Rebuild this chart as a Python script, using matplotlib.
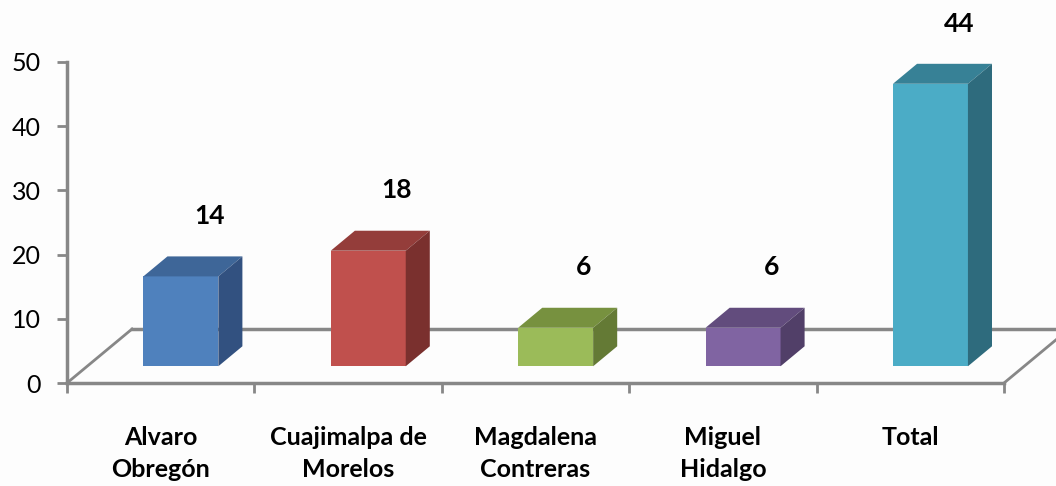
import matplotlib
matplotlib.use('Agg')
import matplotlib.pyplot as plt
from matplotlib.patches import Polygon

plt.rcParams['font.family'] = ['Lato', 'DejaVu Sans']

# datos
categorias = ['Alvaro\nObregón', 'Cuajimalpa de\nMorelos', 'Magdalena\nContreras', 'Miguel\nHidalgo', 'Total']
valores = [14, 18, 6, 6, 44]
color_frente = ['#4F81BD', '#C0504D', '#9BBB59', '#8064A2', '#4BACC6']
color_arriba = ['#3E6698', '#943D3A', '#77913F', '#624C7D', '#378196']
color_lado = ['#325180', '#7A302E', '#647A35', '#513F68', '#2E6B7D']

gris = '#878787'

fig = plt.figure(figsize=(10.56, 4.86), dpi=100)
fig.patch.set_facecolor('#FDFDFD')
ax = fig.add_axes([67 / 1056, 103 / 486, (1004 - 67) / 1056, 321 / 486])
ax.set_facecolor('none')

# profundidad del piso (efecto 3D)
prof_x, prof_y = 0.347, 8.41
ini = 0.31          # la barra empieza a esta fraccion de la profundidad
fondo = 0.37        # profundidad de la barra
ancho = 0.40

x_pos = list(range(len(categorias)))

# piso
ax.plot([-0.5, -0.5 + prof_x], [0, prof_y], color=gris, lw=2, clip_on=False, zorder=1)
ax.plot([-0.5 + prof_x, 4.5 + prof_x], [prof_y, prof_y], color=gris, lw=2.5, clip_on=False, zorder=1)
ax.plot([4.5, 4.5 + prof_x], [0, prof_y], color=gris, lw=2, clip_on=False, zorder=1)

dx0, dy0 = ini * prof_x, ini * prof_y
sdx, sdy = fondo * prof_x, fondo * prof_y

centros = [x + dx0 for x in x_pos]
ax.bar(centros, valores, width=ancho, bottom=dy0, color=color_frente, zorder=3, clip_on=False)

for c, v, ca, cl in zip(centros, valores, color_arriba, color_lado):
    x0, x1 = c - ancho / 2, c + ancho / 2
    b, t = dy0, dy0 + v
    ax.add_patch(Polygon([(x0, t), (x1, t), (x1 + sdx, t + sdy), (x0 + sdx, t + sdy)],
                         closed=True, facecolor=ca, edgecolor='none', zorder=3, clip_on=False))
    ax.add_patch(Polygon([(x1, b), (x1 + sdx, b + sdy), (x1 + sdx, t + sdy), (x1, t)],
                         closed=True, facecolor=cl, edgecolor='none', zorder=3, clip_on=False))
    ax.annotate(str(v), (c + sdx, t + sdy), xytext=(3, 29), textcoords='offset points',
                ha='center', va='center', fontsize=19, fontweight='bold', color='black')

ax.set_xlim(-0.5, 4.5)
ax.set_ylim(0, 50)

ax.set_xticks([x - 0.5 for x in range(len(categorias) + 1)])
ax.set_xticklabels([])
ax.set_xticks(x_pos, minor=True)
ax.set_xticklabels(categorias, minor=True, fontsize=18, fontweight='bold')
for lbl in ax.get_xticklabels(minor=True):
    lbl.set_linespacing(1.45)
ax.tick_params(axis='x', which='major', direction='out', length=7, width=2, color=gris)
ax.tick_params(axis='x', which='minor', length=0, pad=31)

ax.set_yticks(range(0, 51, 10))
ax.tick_params(axis='y', direction='out', length=7, width=2, color=gris, labelsize=18, pad=12)

for s in ['top', 'right']:
    ax.spines[s].set_visible(False)
for s in ['left', 'bottom']:
    ax.spines[s].set_color(gris)
    ax.spines[s].set_linewidth(2.5)

fig.savefig('out.png', dpi=100, facecolor=fig.get_facecolor())
